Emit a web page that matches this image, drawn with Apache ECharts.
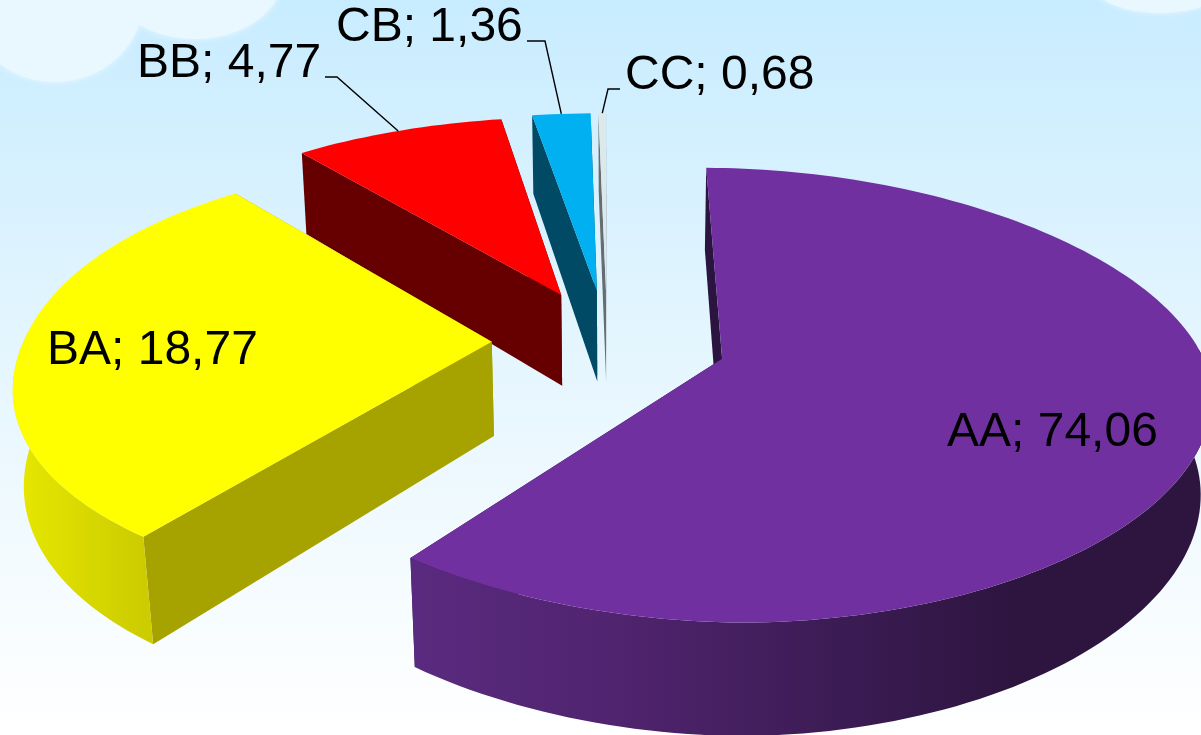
<!DOCTYPE html>
<html>
<head>
<meta charset="utf-8">
<style>
  html, body { margin: 0; padding: 0; }
  #main { width: 1201px; height: 735px; }
</style>
<script src="https://cdn.jsdelivr.net/npm/echarts@6/dist/echarts.min.js"></script>
</head>
<body>
<div id="main"></div>
<script>
const names = ['AA', 'BA', 'BB', 'CB', 'CC'];
// numbers printed in the labels
const labelValues = [74.06, 18.77, 4.77, 1.36, 0.68];
// the slices in the picture are not as wide as their labels say,
// so the drawn share (%) of each one is read off the picture on its own
const drawnShares = [60.4, 28.7, 8.3, 2.3, 0.3];

const topColors = ['#7030a0', '#ffff00', '#ff0000', '#00b0f0', '#dce8ea'];
const cutColors = ['#2b1540', '#a6a300', '#660000', '#004a66', '#666c70'];
const wallStops = [
  [[0, '#5a2a80'], [0.25, '#50246f'], [0.75, '#2d1540'], [1, '#2d1540']],
  [[0, '#e8e800'], [1, '#cccc00']],
  [[0, '#660000'], [1, '#660000']],
  [[0, '#004a66'], [1, '#004a66']],
  [[0, '#666c70'], [1, '#666c70']]
];

// label text anchor (left, baseline) and leader elbow
const labelPlaces = [
  { x: 947, y: 447 },
  { x: 47, y: 365 },
  { x: 137, y: 78, leader: [[325, 77], [337, 77]] },
  { x: 336, y: 42, leader: [[527, 41], [545, 41]] },
  { x: 625, y: 90, leader: [[620, 89], [608, 89]] }
];

// projection of the tilted pie
const view = { cx: 607, cy: 341, a: 480, b: 218, k: 0.16, height: 94, vx: 617, vy: 5720 };
const explodes = [0.25, 0.24, 0.24, 0.24, 0.24];
const radii = [0.99, 0.975, 1.01, 1.015, 1.015];
// arc shape: below 1 bulges on the diagonals, above 1 pulls them in
const arcPower = [1.04, 0.96, 1, 1, 1];
const total = drawnShares.reduce((s, v) => s + v, 0);

function project(u, v) {
  const w = 1 - view.k * v;
  return [view.cx + view.a * u / w, view.cy + view.b * v / w];
}

function drop(p, v) {
  const h = view.height / (1 - view.k * v);
  return [p[0] + (view.vx - p[0]) * h / (view.vy - p[1]), p[1] + h];
}

function sliceGeometry(i) {
  let before = 0;
  for (let n = 0; n < i; n++) before += drawnShares[n];
  const t0 = before / total * Math.PI * 2;
  const t1 = (before + drawnShares[i]) / total * Math.PI * 2;
  const mid = (t0 + t1) / 2;
  const u0 = explodes[i] * Math.sin(mid);
  const v0 = -explodes[i] * Math.cos(mid);
  const r = radii[i];
  const bend = x => Math.sign(x) * Math.pow(Math.abs(x), arcPower[i]);
  const onArc = t => ({ t: t, u: u0 + r * bend(Math.sin(t)), v: v0 - r * bend(Math.cos(t)) });
  const arc = [];
  const steps = Math.max(4, Math.ceil((t1 - t0) * 40));
  for (let s = 0; s <= steps; s++) {
    arc.push(onArc(t0 + (t1 - t0) * s / steps));
  }
  return { arc: arc, apex: { u: u0, v: v0 }, middle: onArc(mid) };
}

function renderSlice(params, api) {
  const i = api.value(0);
  const g = sliceGeometry(i);
  const topArc = g.arc.map(a => project(a.u, a.v));
  const apexTop = project(g.apex.u, g.apex.v);
  const apexLow = drop(apexTop, g.apex.v);
  const first = g.arc[0];
  const last = g.arc[g.arc.length - 1];
  const cut = (a, p) => [apexTop, p, drop(p, a.v), apexLow];
  const children = [];

  children.push({ type: 'polygon', shape: { points: cut(last, topArc[topArc.length - 1]) }, style: { fill: cutColors[i] } });
  children.push({ type: 'polygon', shape: { points: cut(first, topArc[0]) }, style: { fill: cutColors[i] } });

  // outer wall, only the part that faces the viewer
  const front = g.arc.filter(a => Math.cos(a.t) < 0.05);
  if (front.length > 1) {
    const upper = front.map(a => project(a.u, a.v));
    const lower = front.map((a, n) => drop(upper[n], a.v)).reverse();
    const xs = upper.map(p => p[0]);
    children.push({
      type: 'polygon',
      shape: { points: upper.concat(lower) },
      style: {
        fill: {
          type: 'linear', global: true,
          x: Math.min.apply(null, xs), y: 0, x2: Math.max.apply(null, xs), y2: 0,
          colorStops: wallStops[i].map(s => ({ offset: s[0], color: s[1] }))
        }
      }
    });
  }

  children.push({ type: 'polygon', shape: { points: [apexTop].concat(topArc) }, style: { fill: topColors[i] } });
  return { type: 'group', children: children };
}

function renderLabel(params, api) {
  const i = api.value(0);
  const place = labelPlaces[i];
  const children = [];
  if (place.leader) {
    const g = sliceGeometry(i);
    children.push({
      type: 'polyline',
      shape: { points: place.leader.concat([project(g.middle.u, g.middle.v)]) },
      style: { stroke: '#000', lineWidth: 1.4, fill: null }
    });
  }
  children.push({
    type: 'text',
    style: {
      x: place.x,
      y: place.y - 38,
      text: names[i] + '; ' + labelValues[i].toFixed(2).replace('.', ','),
      fill: '#000',
      font: '48px "Liberation Sans", Arial, sans-serif',
      verticalAlign: 'top'
    }
  });
  return { type: 'group', children: children };
}

const indexes = names.map((n, i) => [i]);
const chart = echarts.init(document.getElementById('main'));
const cloud = { fill: '#e9f8ff', shadowBlur: 6, shadowColor: '#e9f8ff' };

chart.setOption({
  animation: false,
  backgroundColor: {
    type: 'linear', x: 0, y: 0, x2: 0, y2: 1,
    colorStops: [
      { offset: 0, color: '#c8ecff' },
      { offset: 0.5, color: '#e6f6fe' },
      { offset: 1, color: '#ffffff' }
    ]
  },
  graphic: [
    { type: 'ellipse', z: 0, silent: true, shape: { cx: 55, cy: 0, rx: 88, ry: 82 }, style: cloud },
    { type: 'ellipse', z: 0, silent: true, shape: { cx: 195, cy: -25, rx: 88, ry: 64 }, style: cloud },
    { type: 'ellipse', z: 0, silent: true, shape: { cx: 1160, cy: -22, rx: 72, ry: 35 }, style: cloud }
  ],
  series: [
    {
      type: 'custom',
      coordinateSystem: 'none',
      z: 2,
      data: indexes.slice().reverse(),
      renderItem: renderSlice
    },
    {
      type: 'custom',
      coordinateSystem: 'none',
      z: 3,
      data: indexes,
      renderItem: renderLabel
    }
  ]
});
</script>
</body>
</html>
